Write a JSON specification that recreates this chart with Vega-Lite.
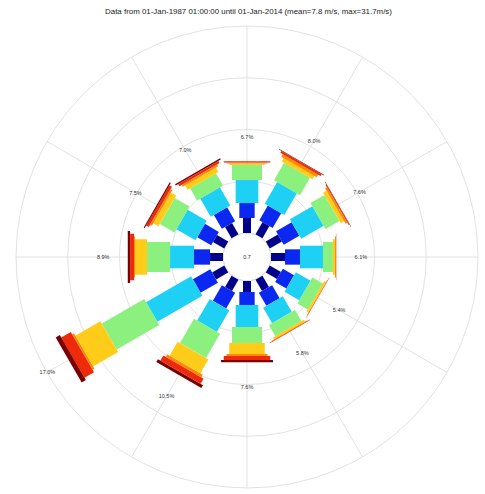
{
  "$schema": "https://vega.github.io/schema/vega-lite/v6.json",
  "width": 485,
  "height": 474,
  "padding": {"top": 20, "left": 0, "right": 0, "bottom": 0},
  "autosize": {"type": "none"},
  "background": "white",
  "view": {"stroke": null},
  "title": {
    "text": "Data from 01-Jan-1987 01:00:00 until 01-Jan-2014 (mean=7.8 m/s, max=31.7m/s)",
    "offset": 4,
    "dx": 6,
    "fontSize": 7.9,
    "font": "Liberation Sans",
    "fontWeight": "normal",
    "color": "#222222",
    "anchor": "middle"
  },
  "datasets": {
    "rose": [
      {"dir": 0, "bin": 1, "freq": 1.40}, {"dir": 0, "bin": 2, "freq": 1.40}, {"dir": 0, "bin": 3, "freq": 2.15}, {"dir": 0, "bin": 4, "freq": 1.40}, {"dir": 0, "bin": 5, "freq": 0.15}, {"dir": 0, "bin": 6, "freq": 0.10}, {"dir": 0, "bin": 7, "freq": 0.10}, {"dir": 0, "bin": 8, "freq": 0.00},
      {"dir": 30, "bin": 1, "freq": 1.31}, {"dir": 30, "bin": 2, "freq": 1.59}, {"dir": 30, "bin": 3, "freq": 2.34}, {"dir": 30, "bin": 4, "freq": 1.87}, {"dir": 30, "bin": 5, "freq": 0.37}, {"dir": 30, "bin": 6, "freq": 0.28}, {"dir": 30, "bin": 7, "freq": 0.19}, {"dir": 30, "bin": 8, "freq": 0.05},
      {"dir": 60, "bin": 1, "freq": 1.31}, {"dir": 60, "bin": 2, "freq": 1.68}, {"dir": 60, "bin": 3, "freq": 2.43}, {"dir": 60, "bin": 4, "freq": 1.50}, {"dir": 60, "bin": 5, "freq": 0.37}, {"dir": 60, "bin": 6, "freq": 0.19}, {"dir": 60, "bin": 7, "freq": 0.09}, {"dir": 60, "bin": 8, "freq": 0.03},
      {"dir": 90, "bin": 1, "freq": 1.31}, {"dir": 90, "bin": 2, "freq": 1.40}, {"dir": 90, "bin": 3, "freq": 2.15}, {"dir": 90, "bin": 4, "freq": 0.93}, {"dir": 90, "bin": 5, "freq": 0.19}, {"dir": 90, "bin": 6, "freq": 0.09}, {"dir": 90, "bin": 7, "freq": 0.03}, {"dir": 90, "bin": 8, "freq": 0.00},
      {"dir": 120, "bin": 1, "freq": 1.21}, {"dir": 120, "bin": 2, "freq": 1.21}, {"dir": 120, "bin": 3, "freq": 1.59}, {"dir": 120, "bin": 4, "freq": 1.12}, {"dir": 120, "bin": 5, "freq": 0.19}, {"dir": 120, "bin": 6, "freq": 0.05}, {"dir": 120, "bin": 7, "freq": 0.03}, {"dir": 120, "bin": 8, "freq": 0.00},
      {"dir": 150, "bin": 1, "freq": 1.21}, {"dir": 150, "bin": 2, "freq": 1.40}, {"dir": 150, "bin": 3, "freq": 1.68}, {"dir": 150, "bin": 4, "freq": 1.21}, {"dir": 150, "bin": 5, "freq": 0.19}, {"dir": 150, "bin": 6, "freq": 0.07}, {"dir": 150, "bin": 7, "freq": 0.04}, {"dir": 150, "bin": 8, "freq": 0.00},
      {"dir": 180, "bin": 1, "freq": 1.03}, {"dir": 180, "bin": 2, "freq": 1.21}, {"dir": 180, "bin": 3, "freq": 2.06}, {"dir": 180, "bin": 4, "freq": 1.50}, {"dir": 180, "bin": 5, "freq": 1.03}, {"dir": 180, "bin": 6, "freq": 0.19}, {"dir": 180, "bin": 7, "freq": 0.37}, {"dir": 180, "bin": 8, "freq": 0.21},
      {"dir": 210, "bin": 1, "freq": 1.21}, {"dir": 210, "bin": 2, "freq": 1.68}, {"dir": 210, "bin": 3, "freq": 2.34}, {"dir": 210, "bin": 4, "freq": 2.62}, {"dir": 210, "bin": 5, "freq": 1.50}, {"dir": 210, "bin": 6, "freq": 0.28}, {"dir": 210, "bin": 7, "freq": 0.56}, {"dir": 210, "bin": 8, "freq": 0.31},
      {"dir": 240, "bin": 1, "freq": 1.31}, {"dir": 240, "bin": 2, "freq": 1.87}, {"dir": 240, "bin": 3, "freq": 4.86}, {"dir": 240, "bin": 4, "freq": 4.58}, {"dir": 240, "bin": 5, "freq": 2.71}, {"dir": 240, "bin": 6, "freq": 0.19}, {"dir": 240, "bin": 7, "freq": 1.03}, {"dir": 240, "bin": 8, "freq": 0.45},
      {"dir": 270, "bin": 1, "freq": 1.21}, {"dir": 270, "bin": 2, "freq": 1.50}, {"dir": 270, "bin": 3, "freq": 2.24}, {"dir": 270, "bin": 4, "freq": 2.15}, {"dir": 270, "bin": 5, "freq": 1.12}, {"dir": 270, "bin": 6, "freq": 0.09}, {"dir": 270, "bin": 7, "freq": 0.37}, {"dir": 270, "bin": 8, "freq": 0.22},
      {"dir": 300, "bin": 1, "freq": 1.21}, {"dir": 300, "bin": 2, "freq": 1.50}, {"dir": 300, "bin": 3, "freq": 2.06}, {"dir": 300, "bin": 4, "freq": 1.59}, {"dir": 300, "bin": 5, "freq": 0.56}, {"dir": 300, "bin": 6, "freq": 0.19}, {"dir": 300, "bin": 7, "freq": 0.28}, {"dir": 300, "bin": 8, "freq": 0.11},
      {"dir": 330, "bin": 1, "freq": 1.21}, {"dir": 330, "bin": 2, "freq": 1.50}, {"dir": 330, "bin": 3, "freq": 1.96}, {"dir": 330, "bin": 4, "freq": 1.31}, {"dir": 330, "bin": 5, "freq": 0.47}, {"dir": 330, "bin": 6, "freq": 0.19}, {"dir": 330, "bin": 7, "freq": 0.23}, {"dir": 330, "bin": 8, "freq": 0.13}
    ],
    "rings": [{"pct": 5}, {"pct": 10}, {"pct": 15}, {"pct": 20}],
    "spokes": [{"dir": 0}, {"dir": 30}, {"dir": 60}, {"dir": 90}, {"dir": 120}, {"dir": 150}, {"dir": 180}, {"dir": 210}, {"dir": 240}, {"dir": 270}, {"dir": 300}, {"dir": 330}],
    "calm": [{"calm": "0.7"}]
  },
  "layer": [
    {
      "data": {"name": "spokes"},
      "transform": [
        {"calculate": "datum.dir*PI/180", "as": "rad"},
        {"calculate": "2.243*sin(datum.rad)", "as": "xa"},
        {"calculate": "2.243*cos(datum.rad)", "as": "ya"},
        {"calculate": "21.589*sin(datum.rad)", "as": "xb"},
        {"calculate": "21.589*cos(datum.rad)", "as": "yb"}
      ],
      "mark": {"type": "rule", "color": "#e2e2e2", "strokeWidth": 1},
      "encoding": {
        "x": {"field": "xa", "type": "quantitative", "scale": {"domain": [-23.084, 22.243], "nice": false, "zero": false}, "axis": null},
        "y": {"field": "ya", "type": "quantitative", "scale": {"domain": [-22.150, 22.150], "nice": false, "zero": false}, "axis": null},
        "x2": {"field": "xb"},
        "y2": {"field": "yb"}
      }
    },
    {
      "data": {"name": "rings"},
      "mark": {"type": "arc", "fill": null, "filled": false, "stroke": "#e2e2e2", "strokeWidth": 1, "theta": 0, "theta2": 6.2832},
      "encoding": {
        "x": {"datum": 0, "type": "quantitative"},
        "y": {"datum": 0, "type": "quantitative"},
        "radius": {"field": "pct", "type": "quantitative", "stack": null, "scale": {"type": "linear", "domain": [0, 20], "range": [24, 231], "zero": false, "nice": false}}
      }
    },
    {
      "data": {"name": "rose"},
      "transform": [
        {"stack": "freq", "groupby": ["dir"], "sort": [{"field": "bin", "order": "ascending"}], "as": ["r0", "r1"]},
        {"calculate": "datum.dir*PI/180", "as": "rad"},
        {"calculate": "(datum.r0+2.243)*sin(datum.rad)", "as": "x0"},
        {"calculate": "(datum.r0+2.243)*cos(datum.rad)", "as": "y0"},
        {"calculate": "(datum.r1+2.243)*sin(datum.rad)", "as": "x1"},
        {"calculate": "(datum.r1+2.243)*cos(datum.rad)", "as": "y1"}
      ],
      "mark": {"type": "rule", "strokeCap": "butt"},
      "encoding": {
        "x": {"field": "x0", "type": "quantitative"},
        "y": {"field": "y0", "type": "quantitative"},
        "x2": {"field": "x1"},
        "y2": {"field": "y1"},
        "color": {"field": "bin", "type": "ordinal", "scale": {"domain": [1, 2, 3, 4, 5, 6, 7, 8], "range": ["#00008B", "#0A28F0", "#1FD0F5", "#8BF07E", "#FFCC1A", "#FF8A00", "#EE2A0A", "#7A0000"]}, "legend": null},
        "size": {"field": "bin", "type": "quantitative", "scale": {"domain": [1, 4, 8], "range": [8, 30, 52]}, "legend": null}
      }
    },
    {
      "data": {"name": "rose"},
      "transform": [
        {"aggregate": [{"op": "sum", "field": "freq", "as": "total"}], "groupby": ["dir"]},
        {"calculate": "datum.dir*PI/180", "as": "rad"},
        {"calculate": "(datum.total+2.243+2.3)*sin(datum.rad)", "as": "lx"},
        {"calculate": "(datum.total+2.243+2.3)*cos(datum.rad)", "as": "ly"},
        {"calculate": "format(datum.total, '.1f') + '%'", "as": "label"}
      ],
      "mark": {"type": "text", "font": "Liberation Sans", "fontSize": 5.5, "color": "#333333", "align": "center", "baseline": "middle"},
      "encoding": {
        "x": {"field": "lx", "type": "quantitative"},
        "y": {"field": "ly", "type": "quantitative"},
        "text": {"field": "label"}
      }
    },
    {
      "data": {"name": "calm"},
      "mark": {"type": "text", "font": "Liberation Sans", "fontSize": 5.5, "color": "#333333", "align": "center", "baseline": "middle"},
      "encoding": {
        "x": {"datum": 0, "type": "quantitative"},
        "y": {"datum": 0, "type": "quantitative"},
        "text": {"field": "calm"}
      }
    }
  ]
}
